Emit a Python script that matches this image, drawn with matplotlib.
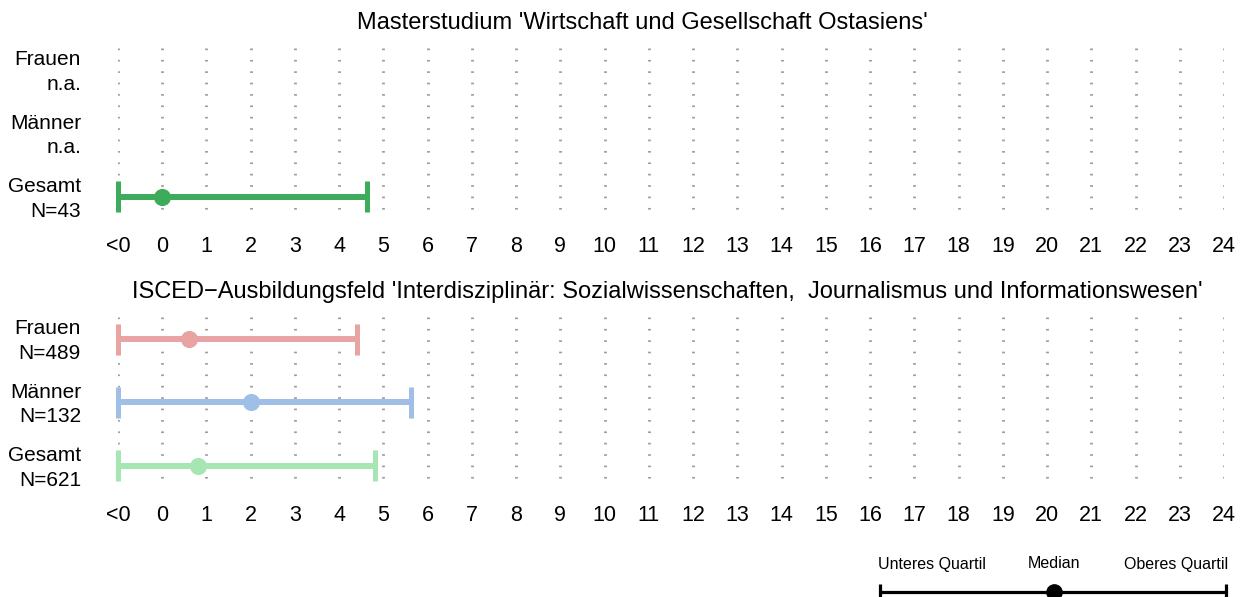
import numpy as np
import matplotlib
matplotlib.use("Agg")
import matplotlib.pyplot as plt

plt.rcParams['font.family'] = ['Liberation Sans', 'DejaVu Sans']

# =====================================================
# DATEN
# =====================================================

x_ticks = list(range(-1, 25))
x_labels = ["<0"] + [str(i) for i in range(0, 25)]

top_title = "Masterstudium 'Wirtschaft und Gesellschaft Ostasiens'"
top_labels = ["Frauen\nn.a.", "Männer\nn.a.", "Gesamt\nN=43"]
top_q1 = [np.nan, np.nan, -1]
top_med = [np.nan, np.nan, 0.0]
top_q3 = [np.nan, np.nan, 4.63]
top_colors = ["#e8a3a3", "#9fbfe6", "#3cab5a"]

bot_title = ("ISCED\u2212Ausbildungsfeld 'Interdisziplinär: Sozialwissenschaften,  "
             "Journalismus und Informationswesen'")
bot_labels = ["Frauen\nN=489", "Männer\nN=132", "Gesamt\nN=621"]
bot_q1 = [-1, -1, -1]
bot_med = [0.61, 2.01, 0.81]
bot_q3 = [4.41, 5.62, 4.81]
bot_colors = ["#e8a3a3", "#9fbfe6", "#a6e6b3"]

legend_labels = ["Unteres Quartil", "Median", "Oberes Quartil"]

# =====================================================
# LAYOUT
# =====================================================

W, H = 1240, 597
PX_PER_UNIT = (1224 - 118) / 25
fig = plt.figure(figsize=(W / 100, H / 100), dpi=100)


def px_axes(left, top, right, bottom):
    return fig.add_axes([left / W, 1 - bottom / H, (right - left) / W, (bottom - top) / H])


def draw_panel(ax, title, title_x, title_y, labels, q1, med, q3, colors):
    ax.set_xlim(-1, 24)
    ax.set_ylim(3.35, 0.65)
    ax.vlines(x_ticks, 0.65, 3.35, colors="#9a9a9a", linewidth=2,
              linestyles=[(0, (0.6, 3.5))], zorder=1)
    for i in range(len(labels)):
        y = i + 1
        if np.isnan(med[i]):
            continue
        c = colors[i]
        ax.plot([q1[i], q3[i]], [y, y], color=c, lw=4.3, solid_capstyle="butt",
                clip_on=False, zorder=2)
        ax.vlines([q1[i], q3[i]], y - 0.245, y + 0.245, colors=c, lw=3.6,
                  clip_on=False, zorder=2)
        ax.plot(med[i], y, "o", color=c, ms=11.3, mec=c, clip_on=False, zorder=3)

    # Zeilenbeschriftung rechtsbündig
    for i, lab in enumerate(labels):
        ax.text(-1 - 37 / PX_PER_UNIT, i + 1.03, lab, fontsize=15, ha="right",
                va="center", linespacing=1.38)
    ax.set_yticks([])

    ax.set_xticks(x_ticks)
    ax.set_xticklabels(x_labels, fontsize=15.5)
    ax.tick_params(axis="x", length=0, pad=12)
    for s in ax.spines.values():
        s.set_visible(False)
    fig.text(title_x / W, 1 - title_y / H, title, fontsize=17, ha="center", va="center")


ax_top = px_axes(118, 48, 1224, 219)
ax_bot = px_axes(118, 317, 1224, 488)

draw_panel(ax_top, top_title, 642, 23, top_labels, top_q1, top_med, top_q3, top_colors)
draw_panel(ax_bot, bot_title, 667, 292, bot_labels, bot_q1, bot_med, bot_q3, bot_colors)

# =====================================================
# LEGENDE
# =====================================================

ax_leg = px_axes(860, 540, 1240, 597)
ax_leg.set_xlim(860, 1240)
ax_leg.set_ylim(597, 540)
ax_leg.axis("off")
ax_leg.plot([880, 1226], [592, 592], color="black", lw=2.3, solid_capstyle="butt",
            clip_on=False)
ax_leg.vlines([880, 1226], 584, 602, colors="black", lw=2.3, clip_on=False)
ax_leg.plot(1054, 592, "o", color="black", ms=11, clip_on=False)
for lab, xc in zip(legend_labels, [932, 1054, 1176]):
    ax_leg.text(xc, 564, lab, fontsize=11.5, ha="center", va="center")

plt.savefig("out.png", dpi=100)
